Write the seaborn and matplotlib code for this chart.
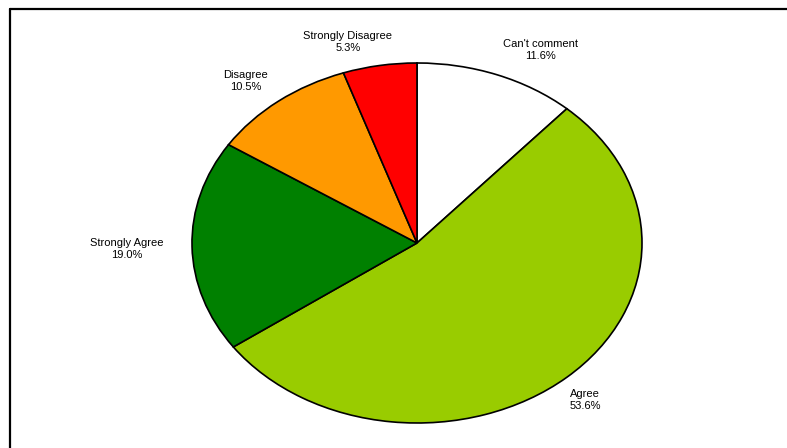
import matplotlib
matplotlib.use("Agg")
import matplotlib.pyplot as plt
import seaborn as sns
from matplotlib.lines import Line2D

# slices go clockwise from 12 o'clock
labels = ["Can't comment", "Agree", "Strongly Agree", "Disagree", "Strongly Disagree"]
shares = [11.6, 53.6, 19.0, 10.5, 5.3]
colors = ["#FFFFFF", "#99CC00", "#008000", "#FF9900", "#FF0000"]

# label anchor points in pie data units (Excel-style free placement)
label_x = [0.547, 0.747, -1.289, -0.76, -0.307]
label_y = [1.072, -0.872, -0.033, 0.90, 1.117]

sns.set_theme(style="white")
plt.rcParams["font.family"] = ["Liberation Sans", "DejaVu Sans"]

W, H = 787, 448
fig = plt.figure(figsize=(W / 100, H / 100), dpi=100)
fig.patch.set_facecolor("white")

# elliptical pie: axes box 450 x 360 px centred at (417, 243)
ax = fig.add_axes([192 / W, (H - 423) / H, 450 / W, 360 / H])
ax.pie(shares, colors=colors, startangle=90, counterclock=False,
       wedgeprops=dict(edgecolor="black", linewidth=1.2))
ax.set_aspect("auto")
ax.set_xlim(-1, 1)
ax.set_ylim(-1, 1)
ax.axis("off")

for lab, val, x, y in zip(labels, shares, label_x, label_y):
    ax.text(x, y, f"{lab}\n{val:.1f}%", ha="center", va="center",
            fontsize=8, color="black", linespacing=1.35, clip_on=False)

# chart frame: only left and top edges are visible in the crop
fig.add_artist(Line2D([9.5 / W, 9.5 / W], [0, 1 - 9.5 / H], color="black", lw=1.6,
                      transform=fig.transFigure))
fig.add_artist(Line2D([9.5 / W, 1], [1 - 9.5 / H, 1 - 9.5 / H], color="black", lw=1.6,
                      transform=fig.transFigure))

fig.savefig("out.png", dpi=100)
